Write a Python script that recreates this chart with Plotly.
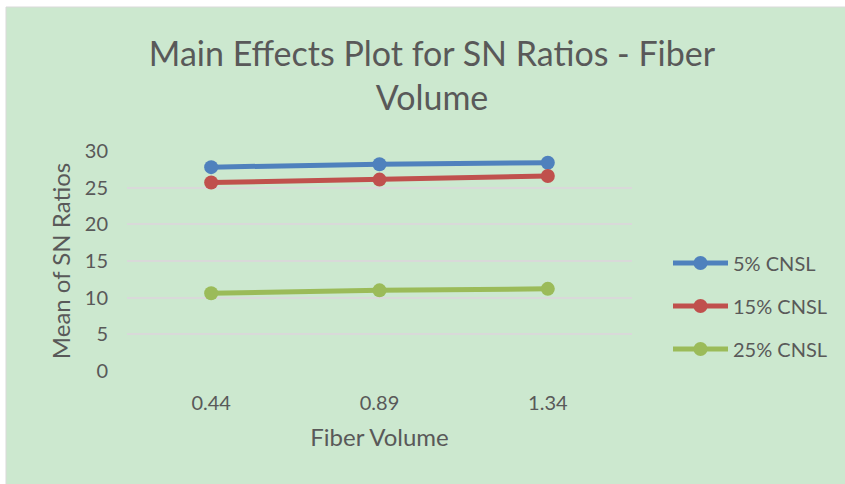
import plotly.graph_objects as go

categories = ["0.44", "0.89", "1.34"]
series_names = ["5% CNSL", "15% CNSL", "25% CNSL"]
cnsl_5 = [27.8, 28.2, 28.4]
cnsl_15 = [25.7, 26.1, 26.6]
cnsl_25 = [10.6, 11.0, 11.2]
y_ticks = [0, 5, 10, 15, 20, 25, 30]

colors = ["#4F81BD", "#C0504D", "#9BBB59"]
FONT = "Lato"
TXT = "#595959"

fig = go.Figure()
for i, (name, vals) in enumerate(zip(series_names, [cnsl_5, cnsl_15, cnsl_25])):
    fig.add_trace(go.Scatter(
        x=categories, y=vals, name=name, mode="lines+markers",
        line=dict(color=colors[i], width=5),
        marker=dict(color=colors[i], size=14),
        legendgroup=name,
    ))

W, H = 845, 484
L, R, T, B = 127, 213, 151, 113
pw, ph = W - L - R, H - T - B

def px_x(p):
    return (p - L) / pw

def px_y(p):
    return (H - B - p) / ph

fig.add_shape(type="rect", xref="paper", yref="paper",
              x0=px_x(6), x1=px_x(846), y0=px_y(7), y1=px_y(485),
              fillcolor="#CCE8CF", line=dict(color="#D9D9D9", width=1),
              layer="below")

fig.update_layout(
    width=W, height=H,
    margin=dict(l=L, r=R, t=T, b=B),
    paper_bgcolor="white",
    plot_bgcolor="rgba(0,0,0,0)",
    font=dict(family=FONT, color=TXT),
    title=dict(text="Main Effects Plot for SN Ratios - Fiber<br>Volume",
               x=432 / W, xanchor="center", y=1 - 66 / H, yanchor="middle",
               font=dict(size=34, color=TXT, family=FONT)),
    xaxis=dict(type="category", range=[-0.5, 2.5], showgrid=False,
               showline=False, ticks="", ticklabelstandoff=18,
               tickfont=dict(size=20, color=TXT),
               title=dict(text="Fiber Volume", font=dict(size=24, color=TXT), standoff=16),
               zeroline=False),
    yaxis=dict(range=[0, 30], tickvals=y_ticks, showgrid=True,
               gridcolor="#D9D9D9", gridwidth=1.5, zeroline=False,
               showline=False, ticks="", ticklabelstandoff=18,
               tickfont=dict(size=20, color=TXT),
               title=dict(text="Mean of SN Ratios", font=dict(size=24, color=TXT), standoff=7)),
    legend=dict(x=px_x(668), xanchor="left", y=px_y(306), yanchor="middle",
                font=dict(size=20, color=TXT), bgcolor="rgba(0,0,0,0)",
                tracegroupgap=14, itemwidth=55),
    showlegend=True,
)

fig.write_html("out.html", config={"displayModeBar": False},
               post_script="document.body.style.margin='0';")
